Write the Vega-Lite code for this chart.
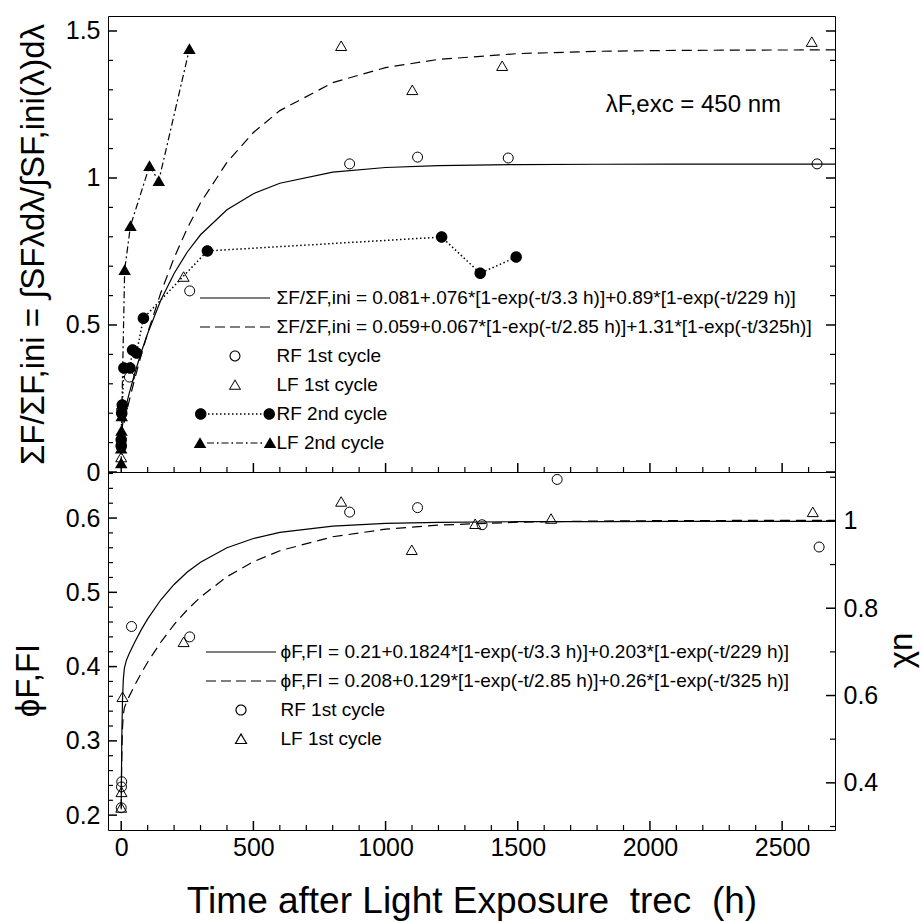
{
  "$schema": "https://vega.github.io/schema/vega-lite/v6.json",
  "autosize": {"type": "none"},
  "padding": {"left": 108, "top": 16, "right": 813, "bottom": 906},
  "background": "white",
  "spacing": 0,
  "bounds": "flush",
  "config": {
    "font": "Liberation Sans",
    "view": {"stroke": "black", "strokeWidth": 1},
    "axis": {"domain": false, "grid": false, "ticks": false, "labelFont": "Liberation Sans", "labelFontSize": 25, "labelColor": "black", "titleFont": "Liberation Sans", "titleFontWeight": "normal", "titleColor": "black", "labelPadding": 8, "labelFlush": false, "labelOverlap": false},
    "legend": {"labelFont": "Liberation Sans", "labelColor": "black"}
  },
  "data": {"values": [
    {"p":"top","s":"fitRF","t":0,"v":0.081},{"p":"top","s":"fitRF","t":1,"v":0.1047},{"p":"top","s":"fitRF","t":2,"v":0.1233},{"p":"top","s":"fitRF","t":3,"v":0.138},{"p":"top","s":"fitRF","t":5,"v":0.1595},{"p":"top","s":"fitRF","t":8,"v":0.1808},{"p":"top","s":"fitRF","t":12,"v":0.2004},{"p":"top","s":"fitRF","t":20,"v":0.2312},{"p":"top","s":"fitRF","t":30,"v":0.2663},{"p":"top","s":"fitRF","t":50,"v":0.3316},{"p":"top","s":"fitRF","t":75,"v":0.4056},{"p":"top","s":"fitRF","t":100,"v":0.4709},{"p":"top","s":"fitRF","t":150,"v":0.5847},{"p":"top","s":"fitRF","t":200,"v":0.6754},{"p":"top","s":"fitRF","t":250,"v":0.7483},{"p":"top","s":"fitRF","t":300,"v":0.8069},{"p":"top","s":"fitRF","t":400,"v":0.8918},{"p":"top","s":"fitRF","t":500,"v":0.9467},{"p":"top","s":"fitRF","t":600,"v":0.9822},{"p":"top","s":"fitRF","t":800,"v":1.02},{"p":"top","s":"fitRF","t":1000,"v":1.0357},{"p":"top","s":"fitRF","t":1200,"v":1.0423},{"p":"top","s":"fitRF","t":1500,"v":1.0457},{"p":"top","s":"fitRF","t":1800,"v":1.0467},{"p":"top","s":"fitRF","t":2100,"v":1.0469},{"p":"top","s":"fitRF","t":2400,"v":1.047},{"p":"top","s":"fitRF","t":2700,"v":1.047},
    {"p":"top","s":"fitLF","t":0,"v":0.059},{"p":"top","s":"fitLF","t":1,"v":0.0829},{"p":"top","s":"fitLF","t":2,"v":0.1008},{"p":"top","s":"fitLF","t":3,"v":0.1147},{"p":"top","s":"fitLF","t":5,"v":0.1344},{"p":"top","s":"fitLF","t":8,"v":0.1538},{"p":"top","s":"fitLF","t":12,"v":0.1725},{"p":"top","s":"fitLF","t":20,"v":0.2041},{"p":"top","s":"fitLF","t":30,"v":0.2415},{"p":"top","s":"fitLF","t":50,"v":0.3128},{"p":"top","s":"fitLF","t":75,"v":0.396},{"p":"top","s":"fitLF","t":100,"v":0.4729},{"p":"top","s":"fitLF","t":150,"v":0.6103},{"p":"top","s":"fitLF","t":200,"v":0.728},{"p":"top","s":"fitLF","t":250,"v":0.829},{"p":"top","s":"fitLF","t":300,"v":0.9156},{"p":"top","s":"fitLF","t":400,"v":1.0534},{"p":"top","s":"fitLF","t":500,"v":1.1547},{"p":"top","s":"fitLF","t":600,"v":1.2292},{"p":"top","s":"fitLF","t":800,"v":1.3242},{"p":"top","s":"fitLF","t":1000,"v":1.3756},{"p":"top","s":"fitLF","t":1200,"v":1.4034},{"p":"top","s":"fitLF","t":1500,"v":1.423},{"p":"top","s":"fitLF","t":1800,"v":1.4309},{"p":"top","s":"fitLF","t":2100,"v":1.434},{"p":"top","s":"fitLF","t":2400,"v":1.4352},{"p":"top","s":"fitLF","t":2700,"v":1.4357},
    {"p":"bot","s":"fitRF","t":0,"v":0.21},{"p":"bot","s":"fitRF","t":1,"v":0.2586},{"p":"bot","s":"fitRF","t":2,"v":0.2947},{"p":"bot","s":"fitRF","t":3,"v":0.3216},{"p":"bot","s":"fitRF","t":5,"v":0.3567},{"p":"bot","s":"fitRF","t":8,"v":0.3832},{"p":"bot","s":"fitRF","t":12,"v":0.3979},{"p":"bot","s":"fitRF","t":20,"v":0.409},{"p":"bot","s":"fitRF","t":30,"v":0.4173},{"p":"bot","s":"fitRF","t":50,"v":0.4322},{"p":"bot","s":"fitRF","t":75,"v":0.4491},{"p":"bot","s":"fitRF","t":100,"v":0.4642},{"p":"bot","s":"fitRF","t":150,"v":0.49},{"p":"bot","s":"fitRF","t":200,"v":0.5106},{"p":"bot","s":"fitRF","t":250,"v":0.5273},{"p":"bot","s":"fitRF","t":300,"v":0.5406},{"p":"bot","s":"fitRF","t":400,"v":0.56},{"p":"bot","s":"fitRF","t":500,"v":0.5725},{"p":"bot","s":"fitRF","t":600,"v":0.5806},{"p":"bot","s":"fitRF","t":800,"v":0.5892},{"p":"bot","s":"fitRF","t":1000,"v":0.5928},{"p":"bot","s":"fitRF","t":1200,"v":0.5943},{"p":"bot","s":"fitRF","t":1500,"v":0.5951},{"p":"bot","s":"fitRF","t":1800,"v":0.5953},{"p":"bot","s":"fitRF","t":2100,"v":0.5954},{"p":"bot","s":"fitRF","t":2400,"v":0.5954},{"p":"bot","s":"fitRF","t":2700,"v":0.5954},
    {"p":"bot","s":"fitLF","t":0,"v":0.208},{"p":"bot","s":"fitLF","t":1,"v":0.247},{"p":"bot","s":"fitLF","t":2,"v":0.2746},{"p":"bot","s":"fitLF","t":3,"v":0.2944},{"p":"bot","s":"fitLF","t":5,"v":0.3186},{"p":"bot","s":"fitLF","t":8,"v":0.3355},{"p":"bot","s":"fitLF","t":12,"v":0.3445},{"p":"bot","s":"fitLF","t":20,"v":0.3524},{"p":"bot","s":"fitLF","t":30,"v":0.3599},{"p":"bot","s":"fitLF","t":50,"v":0.3741},{"p":"bot","s":"fitLF","t":75,"v":0.3906},{"p":"bot","s":"fitLF","t":100,"v":0.4059},{"p":"bot","s":"fitLF","t":150,"v":0.4331},{"p":"bot","s":"fitLF","t":200,"v":0.4565},{"p":"bot","s":"fitLF","t":250,"v":0.4765},{"p":"bot","s":"fitLF","t":300,"v":0.4937},{"p":"bot","s":"fitLF","t":400,"v":0.5211},{"p":"bot","s":"fitLF","t":500,"v":0.5412},{"p":"bot","s":"fitLF","t":600,"v":0.556},{"p":"bot","s":"fitLF","t":800,"v":0.5748},{"p":"bot","s":"fitLF","t":1000,"v":0.585},{"p":"bot","s":"fitLF","t":1200,"v":0.5905},{"p":"bot","s":"fitLF","t":1500,"v":0.5944},{"p":"bot","s":"fitLF","t":1800,"v":0.596},{"p":"bot","s":"fitLF","t":2100,"v":0.5966},{"p":"bot","s":"fitLF","t":2400,"v":0.5968},{"p":"bot","s":"fitLF","t":2700,"v":0.5969},
    {"p":"top","s":"RF1","t":0,"v":0.085},{"p":"top","s":"RF1","t":2,"v":0.21},{"p":"top","s":"RF1","t":31,"v":0.323},{"p":"top","s":"RF1","t":259,"v":0.616},{"p":"top","s":"RF1","t":864,"v":1.048},{"p":"top","s":"RF1","t":1121,"v":1.071},{"p":"top","s":"RF1","t":1464,"v":1.068},{"p":"top","s":"RF1","t":2632,"v":1.048},
    {"p":"top","s":"LF1","t":0,"v":0.05},{"p":"top","s":"LF1","t":4,"v":0.23},{"p":"top","s":"LF1","t":236,"v":0.664},{"p":"top","s":"LF1","t":832,"v":1.449},{"p":"top","s":"LF1","t":1101,"v":1.299},{"p":"top","s":"LF1","t":1441,"v":1.381},{"p":"top","s":"LF1","t":2612,"v":1.463},
    {"p":"top","s":"RF2","t":0,"v":0.09},{"p":"top","s":"RF2","t":0,"v":0.11},{"p":"top","s":"RF2","t":2,"v":0.2},{"p":"top","s":"RF2","t":4,"v":0.228},{"p":"top","s":"RF2","t":10,"v":0.354},{"p":"top","s":"RF2","t":33,"v":0.354},{"p":"top","s":"RF2","t":43,"v":0.415},{"p":"top","s":"RF2","t":58,"v":0.405},{"p":"top","s":"RF2","t":84,"v":0.523},{"p":"top","s":"RF2","t":326,"v":0.752},{"p":"top","s":"RF2","t":1212,"v":0.799},{"p":"top","s":"RF2","t":1358,"v":0.676},{"p":"top","s":"RF2","t":1494,"v":0.731},
    {"p":"top","s":"LF2","t":0,"v":0.03},{"p":"top","s":"LF2","t":0,"v":0.08},{"p":"top","s":"LF2","t":1,"v":0.14},{"p":"top","s":"LF2","t":2,"v":0.19},{"p":"top","s":"LF2","t":13,"v":0.687},{"p":"top","s":"LF2","t":35,"v":0.837},{"p":"top","s":"LF2","t":107,"v":1.041},{"p":"top","s":"LF2","t":142,"v":0.99},{"p":"top","s":"LF2","t":258,"v":1.439},
    {"p":"bot","s":"RF1","t":0,"v":0.21},{"p":"bot","s":"RF1","t":1,"v":0.238},{"p":"bot","s":"RF1","t":2,"v":0.245},{"p":"bot","s":"RF1","t":39,"v":0.454},{"p":"bot","s":"RF1","t":259,"v":0.44},{"p":"bot","s":"RF1","t":864,"v":0.608},{"p":"bot","s":"RF1","t":1121,"v":0.614},{"p":"bot","s":"RF1","t":1365,"v":0.591},{"p":"bot","s":"RF1","t":1649,"v":0.652},{"p":"bot","s":"RF1","t":2640,"v":0.561},
    {"p":"bot","s":"LF1","t":0,"v":0.21},{"p":"bot","s":"LF1","t":1,"v":0.231},{"p":"bot","s":"LF1","t":5,"v":0.359},{"p":"bot","s":"LF1","t":236,"v":0.433},{"p":"bot","s":"LF1","t":832,"v":0.622},{"p":"bot","s":"LF1","t":1099,"v":0.557},{"p":"bot","s":"LF1","t":1339,"v":0.592},{"p":"bot","s":"LF1","t":1626,"v":0.599},{"p":"bot","s":"LF1","t":2616,"v":0.608},
    {"p":"chi","c":0.4},{"p":"chi","c":1},
    {"p":"ann","t":2496,"v":1.248,"label":"λF,exc = 450 nm"},
    {"p":"ty","val":0,"maj":1},{"p":"ty","val":0.1,"maj":0},{"p":"ty","val":0.2,"maj":0},{"p":"ty","val":0.3,"maj":0},{"p":"ty","val":0.4,"maj":0},{"p":"ty","val":0.5,"maj":1},{"p":"ty","val":0.6,"maj":0},{"p":"ty","val":0.7,"maj":0},{"p":"ty","val":0.8,"maj":0},{"p":"ty","val":0.9,"maj":0},{"p":"ty","val":1,"maj":1},{"p":"ty","val":1.1,"maj":0},{"p":"ty","val":1.2,"maj":0},{"p":"ty","val":1.3,"maj":0},{"p":"ty","val":1.4,"maj":0},{"p":"ty","val":1.5,"maj":1},
    {"p":"tx","val":0,"maj":1},{"p":"tx","val":100,"maj":0},{"p":"tx","val":200,"maj":0},{"p":"tx","val":300,"maj":0},{"p":"tx","val":400,"maj":0},{"p":"tx","val":500,"maj":1},{"p":"tx","val":600,"maj":0},{"p":"tx","val":700,"maj":0},{"p":"tx","val":800,"maj":0},{"p":"tx","val":900,"maj":0},{"p":"tx","val":1000,"maj":1},{"p":"tx","val":1100,"maj":0},{"p":"tx","val":1200,"maj":0},{"p":"tx","val":1300,"maj":0},{"p":"tx","val":1400,"maj":0},{"p":"tx","val":1500,"maj":1},{"p":"tx","val":1600,"maj":0},{"p":"tx","val":1700,"maj":0},{"p":"tx","val":1800,"maj":0},{"p":"tx","val":1900,"maj":0},{"p":"tx","val":2000,"maj":1},{"p":"tx","val":2100,"maj":0},{"p":"tx","val":2200,"maj":0},{"p":"tx","val":2300,"maj":0},{"p":"tx","val":2400,"maj":0},{"p":"tx","val":2500,"maj":1},{"p":"tx","val":2600,"maj":0},
    {"p":"tphi","val":0.2,"maj":1},{"p":"tphi","val":0.22,"maj":0},{"p":"tphi","val":0.24,"maj":0},{"p":"tphi","val":0.26,"maj":0},{"p":"tphi","val":0.28,"maj":0},{"p":"tphi","val":0.3,"maj":1},{"p":"tphi","val":0.32,"maj":0},{"p":"tphi","val":0.34,"maj":0},{"p":"tphi","val":0.36,"maj":0},{"p":"tphi","val":0.38,"maj":0},{"p":"tphi","val":0.4,"maj":1},{"p":"tphi","val":0.42,"maj":0},{"p":"tphi","val":0.44,"maj":0},{"p":"tphi","val":0.46,"maj":0},{"p":"tphi","val":0.48,"maj":0},{"p":"tphi","val":0.5,"maj":1},{"p":"tphi","val":0.52,"maj":0},{"p":"tphi","val":0.54,"maj":0},{"p":"tphi","val":0.56,"maj":0},{"p":"tphi","val":0.58,"maj":0},{"p":"tphi","val":0.6,"maj":1},{"p":"tphi","val":0.62,"maj":0},{"p":"tphi","val":0.64,"maj":0},{"p":"tphi","val":0.66,"maj":0},
    {"p":"tchi","val":0.3,"maj":0},{"p":"tchi","val":0.4,"maj":1},{"p":"tchi","val":0.5,"maj":0},{"p":"tchi","val":0.6,"maj":1},{"p":"tchi","val":0.7,"maj":0},{"p":"tchi","val":0.8,"maj":1},{"p":"tchi","val":0.9,"maj":0},{"p":"tchi","val":1,"maj":1},{"p":"tchi","val":1.1,"maj":0}
  ]},
  "resolve": {"scale": {"shape": "independent", "strokeDash": "independent"}, "legend": {"shape": "independent", "strokeDash": "independent"}},
  "vconcat": [
    {
      "width": 727, "height": 456,
      "resolve": {"axis": {"x": "independent", "y": "independent"}},
      "layer": [
        {
          "transform": [{"filter": "datum.p == 'top' && datum.s == 'fitRF'"}],
          "mark": {"type": "line", "color": "black", "strokeWidth": 1.2},
          "encoding": {
            "x": {"field": "t", "type": "quantitative", "scale": {"domain": [-50, 2700], "nice": false, "zero": false}, "axis": null},
            "y": {"field": "v", "type": "quantitative", "scale": {"domain": [0, 1.551], "nice": false, "zero": false}, "axis": {"orient": "left", "values": [0, 0.5, 1, 1.5], "format": "~g", "labelPadding": 8, "title": "ΣF/ΣF,ini = ∫SFλdλ/∫SF,ini(λ)dλ", "titleFontSize": 33, "titleX": -65, "titleY": 228, "titleAngle": -90, "titleAlign": "center", "titleBaseline": "alphabetic"}}
          }
        },
        {
          "transform": [{"filter": "datum.p == 'top' && datum.s == 'fitLF'"}],
          "mark": {"type": "line", "color": "black", "strokeWidth": 1.2, "strokeDash": [10, 6]},
          "encoding": {
            "x": {"field": "t", "type": "quantitative", "axis": null},
            "y": {"field": "v", "type": "quantitative", "axis": null}
          }
        },
        {
          "transform": [{"filter": "datum.p == 'top' && datum.s == 'RF2'"}],
          "mark": {"type": "line", "color": "black", "strokeWidth": 1.5, "strokeDash": [1.5, 2.5]},
          "encoding": {
            "x": {"field": "t", "type": "quantitative", "axis": null},
            "y": {"field": "v", "type": "quantitative", "axis": null}
          }
        },
        {
          "transform": [{"filter": "datum.p == 'top' && datum.s == 'LF2'"}],
          "mark": {"type": "line", "color": "black", "strokeWidth": 1.2, "strokeDash": [7, 3, 2, 3]},
          "encoding": {
            "x": {"field": "t", "type": "quantitative", "axis": null},
            "y": {"field": "v", "type": "quantitative", "axis": null}
          }
        },
        {
          "transform": [{"filter": "datum.p == 'top' && datum.s == 'RF1'"}],
          "mark": {"type": "point", "shape": "M1,0A1,1,0,1,1,-1,0A1,1,0,1,1,1,0Z", "filled": false, "size": 100, "color": "black", "strokeWidth": 1, "opacity": 1},
          "encoding": {
            "x": {"field": "t", "type": "quantitative", "axis": null},
            "y": {"field": "v", "type": "quantitative", "axis": null}
          }
        },
        {
          "transform": [{"filter": "datum.p == 'top' && datum.s == 'LF1'"}],
          "mark": {"type": "point", "shape": "M0,-1L1.1,0.9L-1.1,0.9Z", "filled": false, "size": 100, "color": "black", "strokeWidth": 1, "opacity": 1},
          "encoding": {
            "x": {"field": "t", "type": "quantitative", "axis": null},
            "y": {"field": "v", "type": "quantitative", "axis": null}
          }
        },
        {
          "transform": [{"filter": "datum.p == 'top' && datum.s == 'RF2'"}],
          "mark": {"type": "point", "shape": "M1.15,0A1.15,1.15,0,1,1,-1.15,0A1.15,1.15,0,1,1,1.15,0Z", "filled": true, "size": 100, "color": "black", "opacity": 1},
          "encoding": {
            "x": {"field": "t", "type": "quantitative", "axis": null},
            "y": {"field": "v", "type": "quantitative", "axis": null}
          }
        },
        {
          "transform": [{"filter": "datum.p == 'top' && datum.s == 'LF2'"}],
          "mark": {"type": "point", "shape": "M0,-1.15L1.25,1L-1.25,1Z", "filled": true, "size": 100, "color": "black", "opacity": 1},
          "encoding": {
            "x": {"field": "t", "type": "quantitative", "axis": null},
            "y": {"field": "v", "type": "quantitative", "axis": null}
          }
        },
        {
          "transform": [{"filter": "datum.p == 'ann'"}],
          "mark": {"type": "text", "align": "right", "baseline": "middle", "fontSize": 24, "font": "Liberation Sans", "color": "black"},
          "encoding": {
            "x": {"field": "t", "type": "quantitative", "axis": null},
            "y": {"field": "v", "type": "quantitative", "axis": null},
            "text": {"field": "label"}
          }
        },
        {
          "transform": [{"filter": "datum.p == 'legend'"}],
          "mark": {"type": "point", "filled": true, "fill": "black", "strokeWidth": 0},
          "encoding": {
            "shape": {"field": "s", "type": "nominal",
              "scale": {"domain": ["fitRF", "fitLF", "RF1", "LF1", "RF2", "LF2"], "range": [
                "M-7,-0.12H7V0.12H-7Z",
                "M-7,-0.12H-5V0.12H-7ZM-4,-0.12H-2V0.12H-4ZM-1,-0.12H1V0.12H-1ZM2,-0.12H4V0.12H2ZM5,-0.12H7V0.12H5Z",
                "M1.1,0A1.1,1.1,0,1,1,-1.1,0A1.1,1.1,0,1,1,1.1,0ZM0.88,0A0.88,0.88,0,1,0,-0.88,0A0.88,0.88,0,1,0,0.88,0Z",
                "M0,-1.15L1.25,0.95L-1.25,0.95ZM0,-0.78L-0.93,0.74L0.93,0.74Z",
                "M-5.4,-0.15H-5.1V0.15H-5.4ZM-4.6,-0.15H-4.3V0.15H-4.6ZM-3.8,-0.15H-3.5V0.15H-3.8ZM-3,-0.15H-2.7V0.15H-3ZM-2.2,-0.15H-1.9V0.15H-2.2ZM-1.4,-0.15H-1.1V0.15H-1.4ZM-0.6,-0.15H-0.3V0.15H-0.6ZM0.2,-0.15H0.5V0.15H0.2ZM1,-0.15H1.3V0.15H1ZM1.8,-0.15H2.1V0.15H1.8ZM2.6,-0.15H2.9V0.15H2.6ZM3.4,-0.15H3.7V0.15H3.4ZM4.2,-0.15H4.5V0.15H4.2ZM5,-0.15H5.3V0.15H5ZM8,0A1.15,1.15,0,1,1,5.7,0A1.15,1.15,0,1,1,8,0ZM-5.7,0A1.15,1.15,0,1,1,-8,0A1.15,1.15,0,1,1,-5.7,0Z",
                "M-5.6,-0.12H-4.2V0.12H-5.6ZM-3.6,-0.15H-3.3V0.15H-3.6ZM-2.7,-0.12H-1.3V0.12H-2.7ZM-0.7,-0.15H-0.4V0.15H-0.7ZM0.2,-0.12H1.6V0.12H0.2ZM2.2,-0.15H2.5V0.15H2.2ZM3.1,-0.12H4.5V0.12H3.1ZM5.1,-0.15H5.4V0.15H5.1ZM7,-1.15L8.25,1L5.75,1ZM-7,-1.15L-5.75,1L-8.25,1Z"
              ]},
              "legend": {"orient": "none", "legendX": 117.5, "legendY": 272.5, "title": null, "padding": 0, "direction": "vertical", "symbolSize": 100, "symbolStrokeWidth": 0, "symbolFillColor": "black", "symbolOpacity": 1, "labelFontSize": 19, "labelLimit": 700, "labelOffset": 32, "rowPadding": 9,
                "labelExpr": "datum.value == 'fitRF' ? 'ΣF/ΣF,ini = 0.081+.076*[1-exp(-t/3.3 h)]+0.89*[1-exp(-t/229 h)]' : datum.value == 'fitLF' ? 'ΣF/ΣF,ini = 0.059+0.067*[1-exp(-t/2.85 h)]+1.31*[1-exp(-t/325h)]' : datum.value == 'RF1' ? 'RF 1st cycle' : datum.value == 'LF1' ? 'LF 1st cycle' : datum.value == 'RF2' ? 'RF 2nd cycle' : 'LF 2nd cycle'"}}
          }
        },
        {
          "transform": [{"filter": "datum.p == 'ty' && datum.maj == 1"}],
          "mark": {"type": "tick", "orient": "horizontal", "size": 9, "thickness": 1.5, "xOffset": 4.5, "color": "black", "opacity": 1},
          "encoding": {"x": {"datum": -50, "type": "quantitative", "axis": null}, "y": {"field": "val", "type": "quantitative", "axis": null}}
        },
        {
          "transform": [{"filter": "datum.p == 'ty' && datum.maj == 0"}],
          "mark": {"type": "tick", "orient": "horizontal", "size": 5, "thickness": 1.2, "xOffset": 2.5, "color": "black", "opacity": 1},
          "encoding": {"x": {"datum": -50, "type": "quantitative", "axis": null}, "y": {"field": "val", "type": "quantitative", "axis": null}}
        },
        {
          "transform": [{"filter": "datum.p == 'ty' && datum.maj == 1"}],
          "mark": {"type": "tick", "orient": "horizontal", "size": 9, "thickness": 1.5, "xOffset": -4.5, "color": "black", "opacity": 1},
          "encoding": {"x": {"datum": 2700, "type": "quantitative", "axis": null}, "y": {"field": "val", "type": "quantitative", "axis": null}}
        },
        {
          "transform": [{"filter": "datum.p == 'ty' && datum.maj == 0"}],
          "mark": {"type": "tick", "orient": "horizontal", "size": 5, "thickness": 1.2, "xOffset": -2.5, "color": "black", "opacity": 1},
          "encoding": {"x": {"datum": 2700, "type": "quantitative", "axis": null}, "y": {"field": "val", "type": "quantitative", "axis": null}}
        },
        {
          "transform": [{"filter": "datum.p == 'tx' && datum.maj == 1"}],
          "mark": {"type": "tick", "orient": "vertical", "size": 9, "thickness": 1.5, "yOffset": -4.5, "color": "black", "opacity": 1},
          "encoding": {"x": {"field": "val", "type": "quantitative", "axis": null}, "y": {"datum": 0, "type": "quantitative", "axis": null}}
        },
        {
          "transform": [{"filter": "datum.p == 'tx' && datum.maj == 0"}],
          "mark": {"type": "tick", "orient": "vertical", "size": 5, "thickness": 1.2, "yOffset": -2.5, "color": "black", "opacity": 1},
          "encoding": {"x": {"field": "val", "type": "quantitative", "axis": null}, "y": {"datum": 0, "type": "quantitative", "axis": null}}
        }
      ]
    },
    {
      "width": 727, "height": 358,
      "resolve": {"scale": {"y": "independent"}, "axis": {"x": "independent", "y": "independent"}},
      "layer": [
        {
          "transform": [{"filter": "datum.p == 'bot' && datum.s == 'fitRF'"}],
          "mark": {"type": "line", "color": "black", "strokeWidth": 1.2},
          "encoding": {
            "x": {"field": "t", "type": "quantitative", "scale": {"domain": [-50, 2700], "nice": false, "zero": false}, "axis": {"orient": "bottom", "values": [0, 500, 1000, 1500, 2000, 2500], "format": "d", "labelPadding": 5, "title": "Time after Light Exposure\u00a0\u00a0trec\u00a0\u00a0(h)", "titleFontSize": 37, "titleY": 82, "titleBaseline": "alphabetic"}},
            "y": {"field": "v", "type": "quantitative", "scale": {"domain": [0.18, 0.662], "nice": false, "zero": false}, "axis": {"orient": "left", "values": [0.2, 0.3, 0.4, 0.5, 0.6], "format": "~g", "labelPadding": 8, "title": "ϕF,FI", "titleFontSize": 33, "titleX": -70, "titleY": 208, "titleAngle": -90, "titleAlign": "center", "titleBaseline": "alphabetic"}}
          }
        },
        {
          "transform": [{"filter": "datum.p == 'bot' && datum.s == 'fitLF'"}],
          "mark": {"type": "line", "color": "black", "strokeWidth": 1.2, "strokeDash": [10, 6]},
          "encoding": {
            "x": {"field": "t", "type": "quantitative", "axis": null},
            "y": {"field": "v", "type": "quantitative", "scale": {"domain": [0.18, 0.662], "nice": false, "zero": false}, "axis": null}
          }
        },
        {
          "transform": [{"filter": "datum.p == 'bot' && datum.s == 'RF1'"}],
          "mark": {"type": "point", "shape": "M1,0A1,1,0,1,1,-1,0A1,1,0,1,1,1,0Z", "filled": false, "size": 100, "color": "black", "strokeWidth": 1, "opacity": 1},
          "encoding": {
            "x": {"field": "t", "type": "quantitative", "axis": null},
            "y": {"field": "v", "type": "quantitative", "scale": {"domain": [0.18, 0.662], "nice": false, "zero": false}, "axis": null}
          }
        },
        {
          "transform": [{"filter": "datum.p == 'bot' && datum.s == 'LF1'"}],
          "mark": {"type": "point", "shape": "M0,-1L1.1,0.9L-1.1,0.9Z", "filled": false, "size": 100, "color": "black", "strokeWidth": 1, "opacity": 1},
          "encoding": {
            "x": {"field": "t", "type": "quantitative", "axis": null},
            "y": {"field": "v", "type": "quantitative", "scale": {"domain": [0.18, 0.662], "nice": false, "zero": false}, "axis": null}
          }
        },
        {
          "transform": [{"filter": "datum.p == 'legend'"}],
          "mark": {"type": "point", "color": "black", "filled": false, "strokeWidth": 1.2},
          "encoding": {
            "shape": {"field": "s", "type": "nominal",
              "scale": {"domain": ["fitRF", "fitLF", "RF1", "LF1"], "range": ["M-7,0H7", "M-7,0H7", "M1,0A1,1,0,1,1,-1,0A1,1,0,1,1,1,0Z", "M0,-1L1.1,0.9L-1.1,0.9Z"]},
              "legend": {"orient": "none", "legendX": 123.5, "legendY": 170.5, "title": null, "padding": 0, "direction": "vertical", "symbolSize": 100, "symbolStrokeWidth": 1.2, "symbolStrokeColor": "black", "symbolFillColor": "transparent", "symbolOpacity": 1, "labelFontSize": 19, "labelLimit": 700, "labelOffset": 30, "rowPadding": 9,
                "labelExpr": "datum.value == 'fitRF' ? 'ϕF,FI = 0.21+0.1824*[1-exp(-t/3.3 h)]+0.203*[1-exp(-t/229 h)]' : datum.value == 'fitLF' ? 'ϕF,FI = 0.208+0.129*[1-exp(-t/2.85 h)]+0.26*[1-exp(-t/325 h)]' : datum.value == 'RF1' ? 'RF 1st cycle' : 'LF 1st cycle'"}},
            "strokeDash": {"field": "s", "type": "nominal",
              "scale": {"domain": ["fitRF", "fitLF", "RF1", "LF1"], "range": [[1, 0], [10, 5], [1, 0], [1, 0]]},
              "legend": {"orient": "none", "legendX": 123.5, "legendY": 170.5, "title": null, "padding": 0, "direction": "vertical", "symbolSize": 100, "symbolStrokeWidth": 1.2, "symbolStrokeColor": "black", "symbolFillColor": "transparent", "symbolOpacity": 1, "labelFontSize": 19, "labelLimit": 700, "labelOffset": 30, "rowPadding": 9,
                "labelExpr": "datum.value == 'fitRF' ? 'ϕF,FI = 0.21+0.1824*[1-exp(-t/3.3 h)]+0.203*[1-exp(-t/229 h)]' : datum.value == 'fitLF' ? 'ϕF,FI = 0.208+0.129*[1-exp(-t/2.85 h)]+0.26*[1-exp(-t/325 h)]' : datum.value == 'RF1' ? 'RF 1st cycle' : 'LF 1st cycle'"}}
          }
        },
        {
          "transform": [{"filter": "datum.p == 'chi'"}],
          "mark": {"type": "point", "opacity": 0},
          "encoding": {
            "y": {"field": "c", "type": "quantitative", "scale": {"domain": [0.292, 1.112], "nice": false, "zero": false}, "axis": {"orient": "right", "values": [0.4, 0.6, 0.8, 1], "format": "~g", "labelPadding": 8, "title": "χn", "titleFontSize": 33, "titleX": 76, "titleY": 178, "titleAngle": -90, "titleAlign": "center", "titleBaseline": "alphabetic"}}
          }
        },
        {
          "transform": [{"filter": "datum.p == 'tphi' && datum.maj == 1"}],
          "mark": {"type": "tick", "orient": "horizontal", "size": 9, "thickness": 1.5, "xOffset": 4.5, "color": "black", "opacity": 1},
          "encoding": {"x": {"datum": -50, "type": "quantitative", "axis": null}, "y": {"field": "val", "type": "quantitative", "scale": {"domain": [0.18, 0.662], "nice": false, "zero": false}, "axis": null}}
        },
        {
          "transform": [{"filter": "datum.p == 'tphi' && datum.maj == 0"}],
          "mark": {"type": "tick", "orient": "horizontal", "size": 5, "thickness": 1.2, "xOffset": 2.5, "color": "black", "opacity": 1},
          "encoding": {"x": {"datum": -50, "type": "quantitative", "axis": null}, "y": {"field": "val", "type": "quantitative", "scale": {"domain": [0.18, 0.662], "nice": false, "zero": false}, "axis": null}}
        },
        {
          "transform": [{"filter": "datum.p == 'tchi' && datum.maj == 1"}],
          "mark": {"type": "tick", "orient": "horizontal", "size": 9, "thickness": 1.5, "xOffset": -4.5, "color": "black", "opacity": 1},
          "encoding": {"x": {"datum": 2700, "type": "quantitative", "axis": null}, "y": {"field": "val", "type": "quantitative", "scale": {"domain": [0.292, 1.112], "nice": false, "zero": false}, "axis": null}}
        },
        {
          "transform": [{"filter": "datum.p == 'tchi' && datum.maj == 0"}],
          "mark": {"type": "tick", "orient": "horizontal", "size": 5, "thickness": 1.2, "xOffset": -2.5, "color": "black", "opacity": 1},
          "encoding": {"x": {"datum": 2700, "type": "quantitative", "axis": null}, "y": {"field": "val", "type": "quantitative", "scale": {"domain": [0.292, 1.112], "nice": false, "zero": false}, "axis": null}}
        },
        {
          "transform": [{"filter": "datum.p == 'tx' && datum.maj == 1"}],
          "mark": {"type": "tick", "orient": "vertical", "size": 9, "thickness": 1.5, "yOffset": -4.5, "color": "black", "opacity": 1},
          "encoding": {"x": {"field": "val", "type": "quantitative", "axis": null}, "y": {"datum": 0.18, "type": "quantitative", "scale": {"domain": [0.18, 0.662], "nice": false, "zero": false}, "axis": null}}
        },
        {
          "transform": [{"filter": "datum.p == 'tx' && datum.maj == 0"}],
          "mark": {"type": "tick", "orient": "vertical", "size": 5, "thickness": 1.2, "yOffset": -2.5, "color": "black", "opacity": 1},
          "encoding": {"x": {"field": "val", "type": "quantitative", "axis": null}, "y": {"datum": 0.18, "type": "quantitative", "scale": {"domain": [0.18, 0.662], "nice": false, "zero": false}, "axis": null}}
        }
      ]
    }
  ]
}
